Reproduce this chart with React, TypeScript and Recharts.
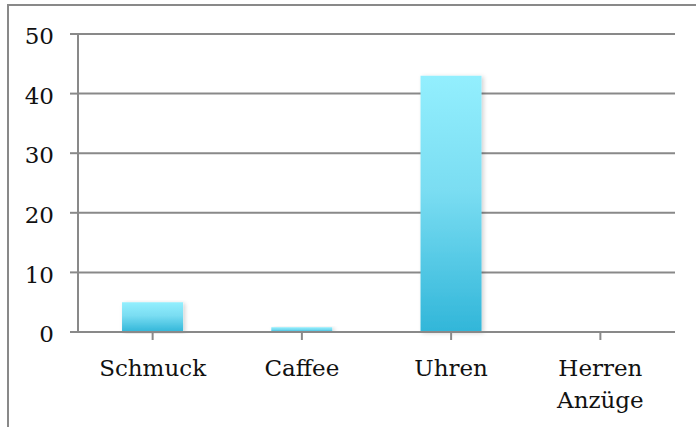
import * as React from "react";
import { Bar, BarChart, CartesianGrid, XAxis, YAxis } from "recharts";

const categories = ["Schmuck", "Caffee", "Uhren", "Herren Anzüge"];
const values = [5, 0.8, 43, 0];
const yTicks = [0, 10, 20, 30, 40, 50];

const data = categories.map((name, i) => ({ name, value: values[i] }));

const FONT = "'DejaVu Serif', serif";
const GRAY = "#898989";

function CategoryTick(props: any) {
  const { x, y, payload } = props;
  const lines = String(payload.value).split(" ");
  return (
    <text
      x={x}
      y={y}
      textAnchor="middle"
      fill="#111"
      fontFamily={FONT}
      fontSize={23}
    >
      {lines.map((line, i) => (
        <tspan key={i} x={x} dy={i === 0 ? 34 : 32}>
          {line}
        </tspan>
      ))}
    </text>
  );
}

export default function App() {
  return (
    <div style={{ position: "absolute", left: 0, top: 0, width: 696, height: 427, background: "#fff" }}>
      <div
        style={{
          position: "absolute",
          left: 7,
          top: 4,
          right: 0,
          bottom: 0,
          borderTop: `2px solid ${GRAY}`,
          borderLeft: `2px solid ${GRAY}`,
        }}
      />
      <BarChart
        width={696}
        height={427}
        data={data}
        margin={{ top: 34, right: 21, left: 0, bottom: 35 }}
        barCategoryGap="29.5%"
        style={{ position: "absolute", left: 0, top: 0 }}
      >
        <defs>
          <linearGradient id="barFill" x1="0" y1="0" x2="0" y2="1">
            <stop offset="0%" stopColor="#93EFFE" />
            <stop offset="45%" stopColor="#7ADDF2" />
            <stop offset="100%" stopColor="#31B6D9" />
          </linearGradient>
          <filter id="barShadow" x="-20%" y="-5%" width="140%" height="110%">
            <feDropShadow dx="2" dy="1" stdDeviation="2" floodColor="#000" floodOpacity="0.18" />
          </filter>
        </defs>
        <CartesianGrid horizontal vertical={false} stroke={GRAY} strokeWidth={2} />
        <XAxis
          dataKey="name"
          height={60}
          interval={0}
          axisLine={{ stroke: GRAY, strokeWidth: 2 }}
          tickLine={{ stroke: GRAY, strokeWidth: 2 }}
          tickSize={8}
          tick={<CategoryTick />}
        />
        <YAxis
          width={78}
          domain={[0, 50]}
          ticks={yTicks}
          interval={0}
          axisLine={{ stroke: GRAY, strokeWidth: 2 }}
          tickLine={{ stroke: GRAY, strokeWidth: 2 }}
          tickSize={8}
          tickMargin={16}
          tick={{ fill: "#111", fontFamily: FONT, fontSize: 23, dy: 2 }}
        />
        <Bar
          dataKey="value"
          fill="url(#barFill)"
          filter="url(#barShadow)"
          isAnimationActive={false}
        />
      </BarChart>
    </div>
  );
}
